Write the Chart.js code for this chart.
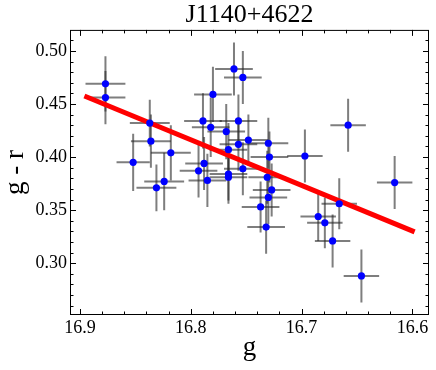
<!DOCTYPE html>
<html>
<head>
<meta charset="utf-8">
<script src="https://cdn.jsdelivr.net/npm/chart.js@4.4.1/dist/chart.umd.min.js"></script>
<style>
  html, body { margin: 0; padding: 0; background: #fff; }
  #wrap { width: 436px; height: 370px; }
</style>
</head>
<body>
<div id="wrap"><canvas id="myChart" width="436" height="370"></canvas></div>
<script>
// g magnitude and g - r colour
const gVals = [16.877, 16.877, 16.852, 16.837, 16.836, 16.818, 16.831, 16.824, 16.789, 16.782,
               16.780, 16.761, 16.753, 16.768, 16.757, 16.766, 16.757, 16.748, 16.788, 16.793,
               16.753, 16.785, 16.766, 16.766, 16.730, 16.729, 16.697, 16.658, 16.616, 16.731,
               16.727, 16.730, 16.737, 16.732, 16.685, 16.679, 16.666, 16.672, 16.646];
const grVals = [0.469, 0.456, 0.395, 0.432, 0.415, 0.404, 0.371, 0.377, 0.434, 0.428,
                0.459, 0.483, 0.475, 0.424, 0.434, 0.407, 0.412, 0.416, 0.394, 0.387,
                0.389, 0.378, 0.384, 0.381, 0.413, 0.400, 0.401, 0.430, 0.376, 0.381,
                0.369, 0.362, 0.353, 0.334, 0.344, 0.338, 0.356, 0.321, 0.288];
const gErr = [0.018, 0.018, 0.015, 0.018, 0.018, 0.018, 0.018, 0.018, 0.017, 0.017,
              0.017, 0.017, 0.017, 0.017, 0.017, 0.017, 0.017, 0.018, 0.017, 0.017,
              0.017, 0.017, 0.017, 0.017, 0.018, 0.017, 0.016, 0.016, 0.016, 0.017,
              0.017, 0.017, 0.017, 0.017, 0.016, 0.016, 0.016, 0.016, 0.016];
const grErr = [0.026, 0.025, 0.027, 0.022, 0.025, 0.026, 0.022, 0.027, 0.026, 0.028,
               0.026, 0.025, 0.025, 0.026, 0.025, 0.025, 0.025, 0.024, 0.025, 0.025,
               0.025, 0.025, 0.025, 0.025, 0.024, 0.024, 0.025, 0.025, 0.025, 0.025,
               0.025, 0.025, 0.024, 0.025, 0.023, 0.024, 0.024, 0.025, 0.025];

// linear fit end points
const fitG = [16.896, 16.598];
const fitGR = [0.4575, 0.3295];

const xTicks = [16.9, 16.8, 16.7, 16.6];
const yTicks = [0.30, 0.35, 0.40, 0.45, 0.50];

const serif = "'Liberation Serif', 'DejaVu Serif', serif";

// error bars under the points
const errorBars = {
  id: 'errorBars',
  beforeDatasetsDraw(chart) {
    const {ctx, chartArea: a, scales: {x, y}} = chart;
    ctx.save();
    ctx.beginPath();
    ctx.rect(a.left, a.top, a.right - a.left, a.bottom - a.top);
    ctx.clip();
    ctx.strokeStyle = 'rgba(40,40,40,0.6)';
    ctx.lineWidth = 2;
    gVals.forEach((g, i) => {
      const px = x.getPixelForValue(g);
      const py = y.getPixelForValue(grVals[i]);
      ctx.beginPath();
      ctx.moveTo(x.getPixelForValue(g - gErr[i]), py);
      ctx.lineTo(x.getPixelForValue(g + gErr[i]), py);
      ctx.moveTo(px, y.getPixelForValue(grVals[i] - grErr[i]));
      ctx.lineTo(px, y.getPixelForValue(grVals[i] + grErr[i]));
      ctx.stroke();
    });
    ctx.restore();
  }
};

// box frame with inward ticks on all sides
const frame = {
  id: 'frame',
  afterDatasetsDraw(chart) {
    const {ctx, chartArea: a, scales: {x, y}} = chart;
    ctx.save();
    ctx.strokeStyle = '#000';
    ctx.lineWidth = 1;
    ctx.beginPath();
    const tick = (px, len, vertical) => {
      if (vertical) {
        ctx.moveTo(px, a.bottom); ctx.lineTo(px, a.bottom - len);
        ctx.moveTo(px, a.top); ctx.lineTo(px, a.top + len);
      } else {
        ctx.moveTo(a.left, px); ctx.lineTo(a.left + len, px);
        ctx.moveTo(a.right, px); ctx.lineTo(a.right - len, px);
      }
    };
    for (let k = 1660; k <= 1690; k += 2) {
      const v = k / 100;
      const major = k % 10 === 0;
      tick(Math.round(x.getPixelForValue(v)) + 0.5, major ? 6 : 3.5, true);
    }
    for (let k = 26; k <= 51; k++) {
      const v = k / 100;
      const major = k % 5 === 0;
      tick(Math.round(y.getPixelForValue(v)) + 0.5, major ? 6 : 3.5, false);
    }
    ctx.stroke();
    ctx.strokeRect(a.left + 0.5, a.top + 0.5, a.right - a.left - 1, a.bottom - a.top - 1);
    ctx.restore();
  }
};

const ctx = document.getElementById('myChart');

new Chart(ctx, {
  data: {
    datasets: [{
      type: 'scatter',
      label: 'stars',
      data: gVals.map((g, i) => ({x: g, y: grVals[i]})),
      backgroundColor: '#0000ff',
      borderWidth: 0,
      pointRadius: 3.6,
      order: 1
    }, {
      type: 'line',
      label: 'fit',
      data: fitG.map((g, i) => ({x: g, y: fitGR[i]})),
      borderColor: '#ff0000',
      borderWidth: 5,
      pointRadius: 0,
      fill: false,
      order: 2
    }]
  },
  options: {
    responsive: false,
    animation: false,
    layout: { padding: { left: 0, right: 7, top: 0, bottom: 0 } },
    plugins: {
      legend: { display: false },
      tooltip: { enabled: false },
      title: {
        display: true,
        fullSize: false,
        text: 'J1140+4622',
        color: '#000',
        font: { family: serif, size: 26, weight: 'normal', lineHeight: 1.15 },
        padding: 0
      }
    },
    scales: {
      x: {
        type: 'linear',
        reverse: true,
        min: 16.585,
        max: 16.909,
        grid: { display: false, drawTicks: false },
        border: { display: false },
        afterBuildTicks: s => { s.ticks = xTicks.map(v => ({value: v})); },
        afterFit: s => { s.height = 55; },
        ticks: {
          color: '#000',
          padding: 2,
          font: { family: serif, size: 18 },
          callback: v => v.toFixed(1)
        },
        title: {
          display: true,
          text: 'g',
          color: '#000',
          font: { family: serif, size: 27, lineHeight: 1.15 },
          padding: { top: 0, bottom: 7 }
        }
      },
      y: {
        type: 'linear',
        min: 0.2512,
        max: 0.5198,
        grid: { display: false, drawTicks: false },
        border: { display: false },
        afterBuildTicks: s => { s.ticks = yTicks.map(v => ({value: v})); },
        afterFit: s => { s.width = 70; },
        ticks: {
          color: '#000',
          padding: 3,
          font: { family: serif, size: 18 },
          callback: v => v.toFixed(2)
        },
        title: {
          display: true,
          text: 'g - r',
          color: '#000',
          font: { family: serif, size: 27, lineHeight: 1.15 },
          padding: { top: 0, bottom: 0 }
        }
      }
    }
  },
  plugins: [errorBars, frame]
});
</script>
</body>
</html>
